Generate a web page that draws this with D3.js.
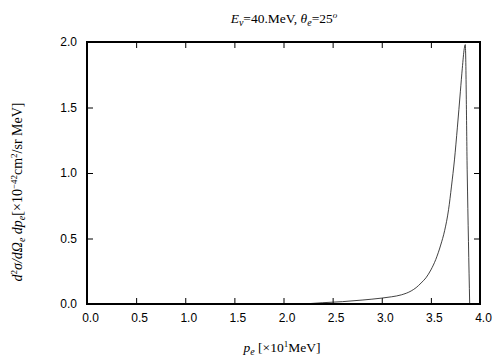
<!DOCTYPE html>
<html>
<head>
<meta charset="utf-8">
<script src="https://cdn.jsdelivr.net/npm/d3@7"></script>
<style>
  body { margin: 0; background: #fff; }
  .tick text { font-family: "Liberation Sans", Arial, sans-serif; font-size: 12px; fill: #000; }
  .serif { font-family: "Liberation Serif", "Times New Roman", serif; fill: #000; }
</style>
</head>
<body>
<svg id="chart" width="504" height="360"></svg>
<script>
// momentum of outgoing electron [x10 MeV]
const pe = [2.2, 2.4, 2.6, 2.8, 3.0, 3.1, 3.2, 3.3, 3.35, 3.4, 3.45, 3.5, 3.55, 3.6, 3.64, 3.68, 3.71, 3.74, 3.77, 3.8, 3.82, 3.84, 3.85, 3.87, 3.895];
// cross section [x10^-42 cm^2/sr MeV]
const xsec = [0.0, 0.01, 0.018, 0.03, 0.045, 0.055, 0.07, 0.1, 0.125, 0.16, 0.2, 0.26, 0.34, 0.45, 0.56, 0.72, 0.9, 1.1, 1.35, 1.62, 1.8, 1.95, 1.98, 1.0, 0.0];
const xTicks = [0, 0.5, 1, 1.5, 2, 2.5, 3, 3.5, 4];
const yTicks = [0, 0.5, 1, 1.5, 2];

const svg = d3.select('#chart');
const margin = { top: 42, right: 24, bottom: 56, left: 87 };
const width = 504 - margin.left - margin.right;
const height = 360 - margin.top - margin.bottom;

const chart = svg.append('g')
    .attr('transform', `translate(${margin.left},${margin.top})`);

const x = d3.scaleLinear().domain([0, 4]).range([0, width]);
const y = d3.scaleLinear().domain([0, 2]).range([height, 0]);

const fmt = d3.format('.1f');

chart.append('g')
    .attr('transform', `translate(0,${height})`)
    .call(d3.axisBottom(x).tickValues(xTicks).tickFormat(fmt).tickSizeInner(-6).tickSizeOuter(0).tickPadding(9))
    .call(g => g.select('.domain').remove())
    .call(g => g.selectAll('text').attr('dx', 3));

chart.append('g')
    .call(d3.axisTop(x).tickValues(xTicks.slice(1, -1)).tickFormat('').tickSizeInner(-6).tickSizeOuter(0))
    .call(g => g.select('.domain').remove());

chart.append('g')
    .call(d3.axisLeft(y).tickValues(yTicks).tickFormat(fmt).tickSizeInner(-6).tickSizeOuter(0).tickPadding(10))
    .call(g => g.select('.domain').remove());

chart.append('g')
    .attr('transform', `translate(${width},0)`)
    .call(d3.axisRight(y).tickValues(yTicks.slice(1, -1)).tickFormat('').tickSizeInner(-6).tickSizeOuter(0))
    .call(g => g.select('.domain').remove());

chart.selectAll('.tick line').attr('stroke', '#000').attr('stroke-width', 1);

const line = d3.line()
    .x((d, i) => x(pe[i]))
    .y(d => y(d))
    .curve(d3.curveMonotoneX);

chart.append('path')
    .datum(xsec)
    .attr('fill', 'none')
    .attr('stroke', '#111')
    .attr('stroke-width', 0.8)
    .attr('d', line);

chart.append('rect')
    .attr('width', width)
    .attr('height', height)
    .attr('fill', 'none')
    .attr('stroke', '#000')
    .attr('stroke-width', 2);

// title
const title = svg.append('text').attr('class', 'serif')
    .attr('x', 284).attr('y', 23).attr('text-anchor', 'middle').style('font-size', '13.5px');
title.append('tspan').style('font-style', 'italic').text('E');
title.append('tspan').attr('dy', 3).style('font-size', '10px').style('font-style', 'italic').text('ν');
title.append('tspan').attr('dy', -3).text('=40.MeV,  ');
title.append('tspan').style('font-style', 'italic').text('θ');
title.append('tspan').attr('dy', 3).style('font-size', '10px').style('font-style', 'italic').text('e');
title.append('tspan').attr('dy', -3).text('=25');
title.append('tspan').attr('dy', -5).style('font-size', '9px').style('font-style', 'italic').text('o');

// x label
const xl = svg.append('text').attr('class', 'serif')
    .attr('x', 282).attr('y', 352).attr('text-anchor', 'middle').style('font-size', '13.5px');
xl.append('tspan').style('font-style', 'italic').text('p');
xl.append('tspan').attr('dy', 3).style('font-size', '10px').style('font-style', 'italic').text('e');
xl.append('tspan').attr('dy', -3).text(' [×10');
xl.append('tspan').attr('dy', -5).style('font-size', '9px').text('1');
xl.append('tspan').attr('dy', 5).text('MeV]');

// y label
const yl = svg.append('text').attr('class', 'serif')
    .attr('transform', 'translate(22,192) rotate(-90)')
    .attr('text-anchor', 'middle').style('font-size', '14px');
yl.append('tspan').style('font-style', 'italic').text('d');
yl.append('tspan').attr('dy', -5).style('font-size', '9px').text('2');
yl.append('tspan').attr('dy', 5).style('font-style', 'italic').text('σ/dΩ');
yl.append('tspan').attr('dy', 3).style('font-size', '10px').style('font-style', 'italic').text('e');
yl.append('tspan').attr('dy', -3).style('font-style', 'italic').text(' dp');
yl.append('tspan').attr('dy', 3).style('font-size', '10px').style('font-style', 'italic').text('e');
yl.append('tspan').attr('dy', -3).text('[×10');
yl.append('tspan').attr('dy', -5).style('font-size', '9px').text('−42');
yl.append('tspan').attr('dy', 5).text('cm');
yl.append('tspan').attr('dy', -5).style('font-size', '9px').text('2');
yl.append('tspan').attr('dy', 5).text('/sr MeV]');
</script>
</body>
</html>
